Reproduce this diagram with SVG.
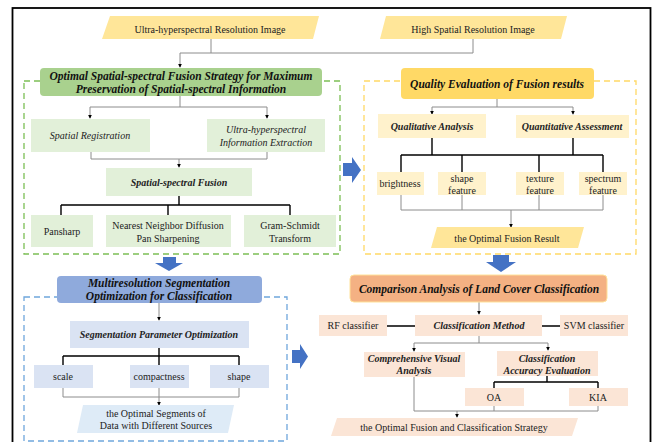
<svg xmlns="http://www.w3.org/2000/svg" width="655" height="442" viewBox="0 0 655 442" font-family="'Liberation Serif','Times New Roman',serif">
<defs>
<marker id="ah" viewBox="0 0 6 6" refX="5" refY="3" markerWidth="4" markerHeight="4" orient="auto" markerUnits="userSpaceOnUse"><path d="M0,0 L6,3 L0,6 z" fill="#000"/></marker>
<style>
text{font-family:"Liberation Serif","Times New Roman",serif;font-size:10px;fill:#222;text-anchor:middle}
.t{font-weight:bold;font-style:italic;font-size:11.5px;fill:#111}
.bi{font-weight:bold;font-style:italic}
.i{font-style:italic}
.g{fill:none;stroke:#8c8c8c;stroke-width:1}
.k{fill:none;stroke:#000;stroke-width:1.4}
.gd{fill:none;stroke:#7CBF55;stroke-width:1.3;stroke-dasharray:6,4}
.yd{fill:none;stroke:#FFD966;stroke-width:1.3;stroke-dasharray:6,4}
.bd{fill:none;stroke:#6FA6DC;stroke-width:1.3;stroke-dasharray:6,4}
.ba{fill:#4472C4}
</style>
</defs>
<rect width="655" height="442" fill="#fff"/>
<rect x="12.5" y="8" width="638" height="440" fill="none" stroke="#000" stroke-width="1.8"/>

<!-- dashed containers -->
<rect class="gd" x="24" y="81" width="316" height="173"/>
<rect class="yd" x="364" y="81" width="272" height="173"/>
<rect class="bd" x="24" y="297" width="263" height="144"/>

<!-- connectors -->
<g id="connectors">
<path class="g" d="M211,39 V53 M473,39 V53 M180,53 H473"/>
<path class="g" d="M180,53 V67" marker-end="url(#ah)"/>
<path class="g" d="M180,96 V107 M90,107 H267"/>
<path class="g" d="M90,107 V118" marker-end="url(#ah)"/>
<path class="g" d="M267,107 V118" marker-end="url(#ah)"/>
<path class="g" d="M91,152 V159 H267 V152"/>
<path class="g" d="M179,159 V167" marker-end="url(#ah)"/>
<path class="k" d="M179,196 V205 M61,205 H290 M61,205 V215 M168,205 V215 M290,205 V215"/>

<path class="g" d="M497,99 V107 M432,107 H573"/>
<path class="g" d="M432,107 V114" marker-end="url(#ah)"/>
<path class="g" d="M573,107 V114" marker-end="url(#ah)"/>
<path class="k" d="M432,138 V155 M573,138 V155" stroke-width="2.2"/>
<path class="k" d="M401,155 H603" stroke-width="2"/>
<path class="k" d="M401,155 V172 M462,155 V172 M539,155 V172 M603,155 V172"/>
<path class="g" d="M401,195 V210 M462,195 V210 M539,195 V210 M603,195 V210 M401,210 H603"/>
<path class="g" d="M511,210 V227" marker-end="url(#ah)"/>

<path class="g" d="M159,303 V320" marker-end="url(#ah)"/>
<path class="k" d="M159,348 V356 M63,356 H239 M63,356 V365 M159,356 V365 M239,356 V365"/>
<path class="g" d="M63,388 V397 H239 V388 M159,388 V397"/>
<path class="g" d="M159,397 V405" marker-end="url(#ah)"/>

<path class="g" d="M479,302 V314" marker-end="url(#ah)"/>
<path class="k" d="M387,326 H415 M542,326 H560"/>
<path class="g" d="M479,336 V343 M414,343 H548"/>
<path class="g" d="M414,343 V351" marker-end="url(#ah)"/>
<path class="g" d="M548,343 V350" marker-end="url(#ah)"/>
<path class="k" d="M547,376 V382 M494,382 H598 M494,382 V388 M598,382 V388"/>
<path class="g" d="M414,377 V411 H598 V406 M494,406 V411"/>
<path class="g" d="M457,411 V417" marker-end="url(#ah)"/>
</g>

<!-- big arrows -->
<g id="big-arrows">
<path class="ba" d="M343,163 H352 V157 L361,170 L352,183 V176 H343 z"/>
<path class="ba" d="M292,350 H300 V344 L308,356.5 L300,369 V363 H292 z"/>
<path class="ba" d="M163,257 H176 V263 H183 L169,271 L155,263 H163 z"/>
<path class="ba" d="M493,255 H509 V262 H516 L501,272 L486,262 H493 z"/>
</g>

<g id="n-uhri"><path d="M110,16 H319 L313,39 H102 z" fill="#FFE699"/><text x="210" y="32.5">Ultra-hyperspectral Resolution Image</text></g>
<g id="n-hsri"><path d="M386,16 H567 L561,39 H380 z" fill="#FFE699"/><text x="473" y="32.5">High Spatial Resolution Image</text></g>

<g id="n-fusion-title"><rect x="40" y="68" width="282" height="28" rx="4" fill="#A9D18E"/><text class="t" x="181" y="80">Optimal Spatial-spectral Fusion Strategy for Maximum</text><text class="t" x="181" y="93">Preservation of Spatial-spectral Information</text></g>
<g id="n-reg"><rect x="31" y="119" width="119" height="33" fill="#E2F0D9"/><text class="i" x="90" y="139">Spatial Registration</text></g>
<g id="n-uhie"><rect x="207" y="119" width="118" height="33" fill="#E2F0D9"/><text class="i" x="266" y="133">Ultra-hyperspectral</text><text class="i" x="266" y="145.5">Information Extraction</text></g>
<g id="n-ssf"><rect x="106" y="168" width="146" height="28" fill="#E2F0D9"/><text class="bi" x="179" y="185.5">Spatial-spectral Fusion</text></g>
<g id="n-pan"><rect x="31" y="215" width="62" height="32" fill="#E2F0D9"/><text x="62" y="234.5">Pansharp</text></g>
<g id="n-nnd"><rect x="106" y="215" width="125" height="32" fill="#E2F0D9"/><text x="168" y="229">Nearest Neighbor Diffusion</text><text x="168" y="241.5">Pan Sharpening</text></g>
<g id="n-gs"><rect x="244" y="215" width="92" height="32" fill="#E2F0D9"/><text x="290" y="229">Gram-Schmidt</text><text x="290" y="241.5">Transform</text></g>

<g id="n-quality-title"><rect x="401" y="68" width="193" height="31" rx="4" fill="#FFD966"/><text class="t" x="497" y="87.5">Quality Evaluation of Fusion results</text></g>
<g id="n-qual"><rect x="378" y="114" width="108" height="24" fill="#FFF2CC"/><text class="bi" x="432" y="130">Qualitative Analysis</text></g>
<g id="n-quant"><rect x="516" y="115" width="113" height="23" fill="#FFF2CC"/><text class="bi" x="572" y="130">Quantitative Assessment</text></g>
<g id="n-bright"><rect x="377" y="172" width="47" height="23" fill="#FFF2CC"/><text x="400" y="187">brightness</text></g>
<g id="n-shapef"><rect x="438" y="172" width="48" height="23" fill="#FFF2CC"/><text x="462" y="182">shape</text><text x="462" y="194">feature</text></g>
<g id="n-texf"><rect x="516" y="172" width="48" height="23" fill="#FFF2CC"/><text x="540" y="182">texture</text><text x="540" y="194">feature</text></g>
<g id="n-specf"><rect x="579" y="172" width="48" height="23" fill="#FFF2CC"/><text x="603" y="182">spectrum</text><text x="603" y="194">feature</text></g>
<g id="n-ofr"><path d="M437,227 H584 L578,248 H431 z" fill="#FFE699"/><text x="507" y="241.5">the Optimal Fusion Result</text></g>

<g id="n-seg-title"><rect x="57" y="276" width="205" height="27" rx="4" fill="#8FAADC"/><text class="t" x="159" y="287">Multiresolution Segmentation</text><text class="t" x="159" y="300">Optimization for Classification</text></g>
<g id="n-spo"><rect x="70" y="321" width="179" height="27" fill="#DAE3F3"/><text class="bi" x="159" y="338">Segmentation Parameter Optimization</text></g>
<g id="n-scale"><rect x="34" y="365" width="59" height="23" fill="#DAE3F3"/><text x="63" y="380">scale</text></g>
<g id="n-comp"><rect x="130" y="365" width="59" height="23" fill="#DAE3F3"/><text x="159" y="380">compactness</text></g>
<g id="n-shape"><rect x="210" y="365" width="59" height="23" fill="#DAE3F3"/><text x="239" y="380">shape</text></g>
<g id="n-oseg"><path d="M83,405 H234 L228,433 H77 z" fill="#DEEBF7"/><text x="156" y="416.5">the Optimal Segments of</text><text x="156" y="428.5">Data with Different Sources</text></g>

<g id="n-comp-title"><rect x="350" y="275" width="257" height="27" rx="4" fill="#F4B183" stroke="#FFE29A" stroke-width="1"/><text class="t" x="479" y="292.5">Comparison Analysis of Land Cover Classification</text></g>
<g id="n-cm"><rect x="415" y="315" width="127" height="21" fill="#FBE5D6"/><text class="bi" x="479" y="329">Classification Method</text></g>
<g id="n-rf"><rect x="319" y="315" width="68" height="21" fill="#FBE5D6"/><text x="353" y="329">RF classifier</text></g>
<g id="n-svm"><rect x="560" y="315" width="68" height="21" fill="#FBE5D6"/><text x="594" y="329">SVM classifier</text></g>
<g id="n-cva"><rect x="364" y="352" width="101" height="25" fill="#FBE5D6"/><text class="bi" x="414" y="362">Comprehensive Visual</text><text class="bi" x="414" y="374">Analysis</text></g>
<g id="n-cae"><rect x="497" y="351" width="101" height="25" fill="#FBE5D6"/><text class="bi" x="547" y="361.5">Classification</text><text class="bi" x="547" y="373.5">Accuracy Evaluation</text></g>
<g id="n-oa"><rect x="465" y="388" width="59" height="18" fill="#FBE5D6"/><text x="494" y="401">OA</text></g>
<g id="n-kia"><rect x="569" y="388" width="59" height="18" fill="#FBE5D6"/><text x="598" y="401">KIA</text></g>
<g id="n-ofcs"><path d="M337,418 H578 L572,436 H331 z" fill="#FBE5D6"/><text x="454" y="430.5">the Optimal Fusion and Classification Strategy</text></g>
</svg>
